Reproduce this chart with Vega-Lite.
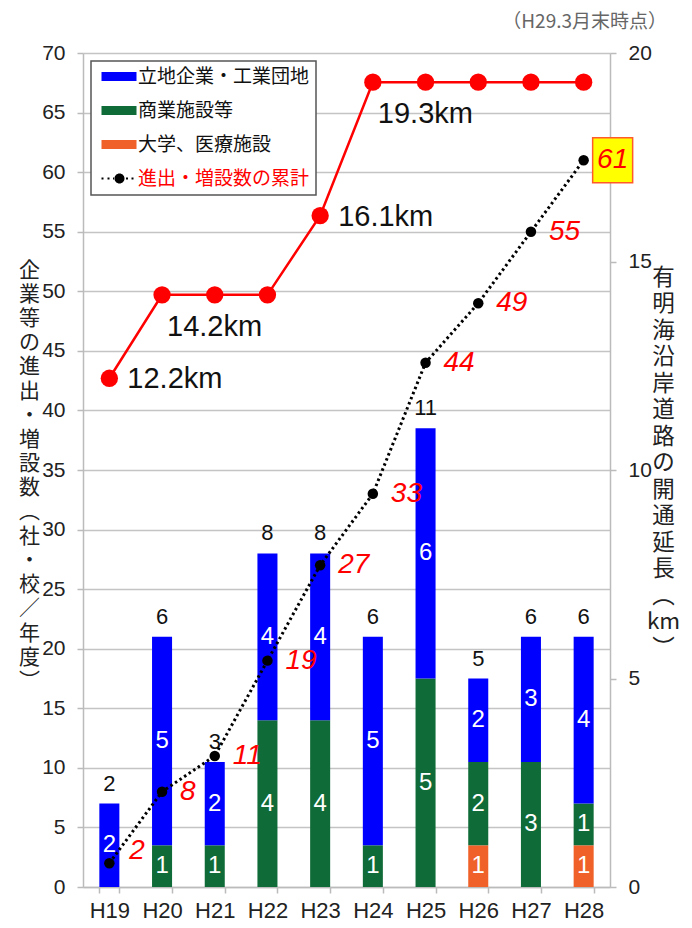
{
  "$schema": "https://vega.github.io/schema/vega-lite/v6.json",
  "width": 527,
  "height": 834,
  "autosize": {"type": "none"},
  "padding": {"left": 83, "top": 53, "right": 82, "bottom": 41},
  "background": "#ffffff",
  "config": {
    "view": {"stroke": null},
    "font": "Noto Sans CJK JP",
    "axis": {
      "labelFont": "Liberation Sans",
      "labelColor": "#222222",
      "domainColor": "#bbbbbb",
      "tickColor": "#bbbbbb",
      "gridColor": "#c4c4c4",
      "domainWidth": 1.5,
      "tickWidth": 1.5,
      "gridWidth": 1.5
    }
  },
  "title": {
    "text": "（H29.3月末時点）",
    "anchor": "end",
    "frame": "group",
    "dx": 57,
    "offset": 10,
    "fontSize": 19,
    "fontWeight": "normal",
    "color": "#666666",
    "font": "Noto Sans CJK JP"
  },
  "datasets": {
    "bars": [
      {"year": "H19", "cat": "立地企業・工業団地", "n": 2, "k": 3},
      {"year": "H20", "cat": "商業施設等", "n": 1, "k": 2},
      {"year": "H20", "cat": "立地企業・工業団地", "n": 5, "k": 3},
      {"year": "H21", "cat": "商業施設等", "n": 1, "k": 2},
      {"year": "H21", "cat": "立地企業・工業団地", "n": 2, "k": 3},
      {"year": "H22", "cat": "商業施設等", "n": 4, "k": 2},
      {"year": "H22", "cat": "立地企業・工業団地", "n": 4, "k": 3},
      {"year": "H23", "cat": "商業施設等", "n": 4, "k": 2},
      {"year": "H23", "cat": "立地企業・工業団地", "n": 4, "k": 3},
      {"year": "H24", "cat": "商業施設等", "n": 1, "k": 2},
      {"year": "H24", "cat": "立地企業・工業団地", "n": 5, "k": 3},
      {"year": "H25", "cat": "商業施設等", "n": 5, "k": 2},
      {"year": "H25", "cat": "立地企業・工業団地", "n": 6, "k": 3},
      {"year": "H26", "cat": "大学、医療施設", "n": 1, "k": 1},
      {"year": "H26", "cat": "商業施設等", "n": 2, "k": 2},
      {"year": "H26", "cat": "立地企業・工業団地", "n": 2, "k": 3},
      {"year": "H27", "cat": "商業施設等", "n": 3, "k": 2},
      {"year": "H27", "cat": "立地企業・工業団地", "n": 3, "k": 3},
      {"year": "H28", "cat": "大学、医療施設", "n": 1, "k": 1},
      {"year": "H28", "cat": "商業施設等", "n": 1, "k": 2},
      {"year": "H28", "cat": "立地企業・工業団地", "n": 4, "k": 3}
    ],
    "road": [
      {"year": "H19", "km": 12.2},
      {"year": "H20", "km": 14.2},
      {"year": "H21", "km": 14.2},
      {"year": "H22", "km": 14.2},
      {"year": "H23", "km": 16.1},
      {"year": "H24", "km": 19.3},
      {"year": "H25", "km": 19.3},
      {"year": "H26", "km": 19.3},
      {"year": "H27", "km": 19.3},
      {"year": "H28", "km": 19.3}
    ],
    "cum": [
      {"year": "H19", "total": 2},
      {"year": "H20", "total": 8},
      {"year": "H21", "total": 11},
      {"year": "H22", "total": 19},
      {"year": "H23", "total": 27},
      {"year": "H24", "total": 33},
      {"year": "H25", "total": 44},
      {"year": "H26", "total": 49},
      {"year": "H27", "total": 55},
      {"year": "H28", "total": 61}
    ]
  },
  "encoding": {
    "x": {
      "field": "year",
      "type": "ordinal",
      "scale": {"paddingInner": 0.62, "paddingOuter": 0.31},
      "axis": {
        "title": null,
        "labelAngle": 0,
        "labelFontSize": 22,
        "labelPadding": 7,
        "tickBand": "extent",
        "tickSize": 6,
        "grid": false
      }
    }
  },
  "layer": [
    {
      "data": {"name": "cum"},
      "mark": {"type": "line", "strokeWidth": 0, "opacity": 0},
      "encoding": {
        "y": {
          "field": "total",
          "type": "quantitative",
          "scale": {"domain": [0, 70], "nice": false},
          "axis": {
            "orient": "left",
            "values": [0, 5, 10, 15, 20, 25, 30, 35, 40, 45, 50, 55, 60, 65, 70],
            "grid": true,
            "tickSize": 6,
            "labelFontSize": 21,
            "labelPadding": 12,
            "title": ["企", "業", "等", "の", "進", "出", "・", "増", "設", "数", "︵", "社", "・", "校", "／", "年", "度", "︶"],
            "titleAngle": 0,
            "titleAlign": "center",
            "titleBaseline": "top",
            "titleX": -54,
            "titleY": 206,
            "titleFontSize": 21,
            "titleLineHeight": 24.2,
            "titleFont": "Noto Sans CJK JP",
            "titleFontWeight": "normal",
            "titleColor": "#222222"
          }
        }
      }
    },
    {
      "data": {"name": "bars"},
      "mark": {"type": "bar"},
      "encoding": {
        "y": {
          "field": "n",
          "type": "quantitative",
          "stack": "zero",
          "scale": {"domain": [0, 20], "nice": false},
          "axis": {
            "orient": "right",
            "values": [0, 5, 10, 15, 20],
            "grid": false,
            "tickSize": 6,
            "labelFontSize": 21,
            "labelPadding": 12,
            "title": ["有", "明", "海", "沿", "岸", "道", "路", "の", "開", "通", "延", "長", "︵", "km", "︶"],
            "titleAngle": 0,
            "titleAlign": "center",
            "titleBaseline": "top",
            "titleX": 53,
            "titleY": 213,
            "titleFontSize": 22.5,
            "titleLineHeight": 26.5,
            "titleFont": "Noto Sans CJK JP",
            "titleFontWeight": "normal",
            "titleColor": "#222222"
          }
        },
        "order": {"field": "k", "type": "quantitative"},
        "color": {
          "field": "cat",
          "type": "nominal",
          "scale": {
            "domain": ["立地企業・工業団地", "商業施設等", "大学、医療施設", "進出・増設数の累計"],
            "range": ["#0000ff", "#0f6b38", "#ef6128", "#000000"]
          },
          "legend": {
            "title": null,
            "orient": "none",
            "legendX": 8,
            "legendY": 8,
            "direction": "vertical",
            "symbolType": "M-1,-0.9H6.0V0.9H-1Z",
            "symbolSize": 100,
            "symbolStrokeWidth": 0,
            "symbolOpacity": 1,
            "labelFont": "Noto Sans CJK JP",
            "labelFontSize": 19,
            "labelOffset": 22,
            "labelLimit": 400,
            "rowPadding": 14,
            "padding": 6,
            "fillColor": "#ffffff",
            "strokeColor": "#555555",
            "encode": {
              "legend": {"update": {"strokeWidth": {"value": 1.5}}},
              "symbols": {
                "update": {
                  "shape": [
                    {"test": "datum.value === '進出・増設数の累計'", "value": "M-1,-0.2h0.4v0.4h-0.4z M0.2,-0.2h0.4v0.4h-0.4z M1.3,-0.2h0.4v0.4h-0.4z M3.9,-0.2h0.4v0.4h-0.4z M5.0,-0.2h0.4v0.4h-0.4z M1.6,0a1,1 0 1,0 2,0a1,1 0 1,0 -2,0z"},
                    {"value": "M-1,-0.9H6.0V0.9H-1Z"}
                  ]
                }
              },
              "labels": {
                "update": {
                  "fill": [
                    {"test": "datum.value === '進出・増設数の累計'", "value": "#ff0000"},
                    {"value": "#111111"}
                  ]
                }
              }
            }
          }
        }
      }
    },
    {
      "data": {"name": "bars"},
      "mark": {
        "type": "text",
        "color": "#ffffff",
        "fontSize": 24,
        "font": "Liberation Sans",
        "baseline": "middle"
      },
      "encoding": {
        "y": {
          "field": "n",
          "type": "quantitative",
          "stack": "zero",
          "bandPosition": 0.5,
          "scale": {"domain": [0, 20], "nice": false},
          "axis": null
        },
        "order": {"field": "k", "type": "quantitative"},
        "detail": {"field": "cat", "type": "nominal"},
        "text": {"field": "n", "type": "quantitative"}
      }
    },
    {
      "data": {"name": "bars"},
      "transform": [
        {"aggregate": [{"op": "sum", "field": "n", "as": "tot"}], "groupby": ["year"]}
      ],
      "mark": {
        "type": "text",
        "color": "#111111",
        "fontSize": 22,
        "font": "Liberation Sans",
        "baseline": "alphabetic",
        "dy": -13
      },
      "encoding": {
        "y": {"field": "tot", "type": "quantitative", "scale": {"domain": [0, 20], "nice": false}, "axis": null},
        "text": {"field": "tot", "type": "quantitative"}
      }
    },
    {
      "data": {"name": "road"},
      "mark": {"type": "line", "color": "#ff0000", "strokeWidth": 2.5},
      "encoding": {
        "y": {"field": "km", "type": "quantitative", "scale": {"domain": [0, 20], "nice": false}, "axis": null}
      }
    },
    {
      "data": {"name": "road"},
      "mark": {"type": "point", "shape": "circle", "filled": true, "color": "#ff0000", "size": 300, "opacity": 1},
      "encoding": {
        "y": {"field": "km", "type": "quantitative", "scale": {"domain": [0, 20], "nice": false}, "axis": null}
      }
    },
    {
      "data": {"name": "road"},
      "transform": [
        {"filter": {"field": "year", "oneOf": ["H19", "H23"]}},
        {"calculate": "format(datum.km, '.1f') + 'km'", "as": "lbl"}
      ],
      "mark": {
        "type": "text",
        "color": "#111111",
        "fontSize": 29,
        "font": "Liberation Sans",
        "align": "left",
        "baseline": "middle",
        "dx": 18,
        "dy": 1
      },
      "encoding": {
        "y": {"field": "km", "type": "quantitative", "scale": {"domain": [0, 20], "nice": false}, "axis": null},
        "text": {"field": "lbl", "type": "nominal"}
      }
    },
    {
      "data": {"name": "road"},
      "transform": [
        {"filter": {"field": "year", "oneOf": ["H20", "H24"]}},
        {"calculate": "format(datum.km, '.1f') + 'km'", "as": "lbl"}
      ],
      "mark": {
        "type": "text",
        "color": "#111111",
        "fontSize": 29,
        "font": "Liberation Sans",
        "align": "left",
        "baseline": "middle",
        "dx": 5,
        "dy": 32
      },
      "encoding": {
        "y": {"field": "km", "type": "quantitative", "scale": {"domain": [0, 20], "nice": false}, "axis": null},
        "text": {"field": "lbl", "type": "nominal"}
      }
    },
    {
      "data": {"name": "cum"},
      "mark": {"type": "line", "color": "#000000", "strokeWidth": 3, "strokeDash": [2.5, 3]},
      "encoding": {
        "y": {"field": "total", "type": "quantitative", "scale": {"domain": [0, 70], "nice": false}, "axis": null}
      }
    },
    {
      "data": {"name": "cum"},
      "mark": {"type": "point", "shape": "circle", "filled": true, "color": "#000000", "size": 110, "opacity": 1},
      "encoding": {
        "y": {"field": "total", "type": "quantitative", "scale": {"domain": [0, 70], "nice": false}, "axis": null}
      }
    },
    {
      "data": {"name": "cum"},
      "transform": [{"filter": {"field": "year", "oneOf": ["H20", "H21", "H22", "H23", "H24", "H25", "H26", "H27"]}}],
      "mark": {
        "type": "text",
        "color": "#ff0000",
        "fontSize": 28,
        "fontStyle": "italic",
        "font": "Liberation Sans",
        "align": "left",
        "baseline": "middle",
        "dx": 18
      },
      "encoding": {
        "y": {"field": "total", "type": "quantitative", "scale": {"domain": [0, 70], "nice": false}, "axis": null},
        "text": {"field": "total", "type": "quantitative"}
      }
    },
    {
      "data": {"name": "cum"},
      "transform": [{"filter": {"field": "year", "equal": "H19"}}],
      "mark": {
        "type": "text",
        "color": "#ff0000",
        "fontSize": 28,
        "fontStyle": "italic",
        "font": "Liberation Sans",
        "align": "left",
        "baseline": "middle",
        "dx": 20,
        "dy": -12
      },
      "encoding": {
        "y": {"field": "total", "type": "quantitative", "scale": {"domain": [0, 70], "nice": false}, "axis": null},
        "text": {"field": "total", "type": "quantitative"}
      }
    },
    {
      "data": {"name": "cum"},
      "transform": [{"filter": {"field": "year", "equal": "H28"}}],
      "mark": {
        "type": "point",
        "shape": "M-1,-1.125H1V1.125H-1Z",
        "size": 1600,
        "filled": true,
        "fill": "#ffff00",
        "stroke": "#ff5a2a",
        "strokeWidth": 1.5,
        "opacity": 1,
        "xOffset": 29
      },
      "encoding": {
        "y": {"field": "total", "type": "quantitative", "scale": {"domain": [0, 70], "nice": false}, "axis": null}
      }
    },
    {
      "data": {"name": "cum"},
      "transform": [{"filter": {"field": "year", "equal": "H28"}}],
      "mark": {
        "type": "text",
        "color": "#ff0000",
        "fontSize": 28,
        "fontStyle": "italic",
        "font": "Liberation Sans",
        "align": "center",
        "baseline": "middle",
        "dx": 29
      },
      "encoding": {
        "y": {"field": "total", "type": "quantitative", "scale": {"domain": [0, 70], "nice": false}, "axis": null},
        "text": {"field": "total", "type": "quantitative"}
      }
    }
  ],
  "resolve": {"scale": {"y": "independent"}}
}
